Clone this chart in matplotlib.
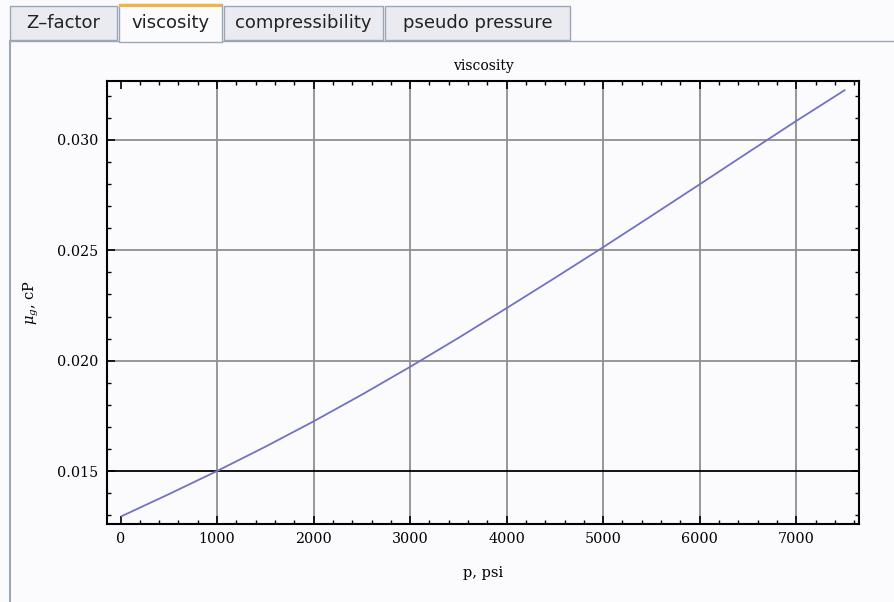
import numpy as np
import matplotlib
matplotlib.use("Agg")
import matplotlib.pyplot as plt
from matplotlib.patches import Rectangle
from matplotlib.ticker import MultipleLocator, FormatStrFormatter

matplotlib.rcParams["mathtext.fontset"] = "dejavuserif"

# data
pressure = [14.7, 500, 1000, 1500, 2000, 2500, 3000, 3500, 4000,
            4500, 5000, 5500, 6000, 6500, 7000, 7500]
viscosity = [0.01296, 0.01395, 0.0150, 0.01610, 0.01725, 0.01846, 0.01972, 0.02103,
             0.02238, 0.02375, 0.02514, 0.02656, 0.02799, 0.02943, 0.03086, 0.03225]
tab_names = ["Z\u2013factor", "viscosity", "compressibility", "pseudo pressure"]
tab_edges = [(10, 117), (119, 222), (224, 383), (385, 570)]
active_tab = 1

W, H = 895, 602
fig = plt.figure(figsize=(W / 100, H / 100), dpi=100)
fig.patch.set_facecolor("#fbfbfd")

def fx(px):
    return px / W

def fy(py):
    return 1 - py / H

# tab strip
for i, (name, (x0, x1)) in enumerate(zip(tab_names, tab_edges)):
    if i == active_tab:
        top, bot, fc = 4, 42, "#fbfbfd"
    else:
        top, bot, fc = 6, 40, "#e9ebf1"
    r = Rectangle((fx(x0), fy(bot)), fx(x1 - x0), (bot - top) / H,
                  transform=fig.transFigure, facecolor=fc, edgecolor="#9ba6b6",
                  linewidth=1, zorder=2)
    fig.patches.append(r)
    if i == active_tab:
        fig.patches.append(Rectangle((fx(x0), fy(7)), fx(x1 - x0), 3 / H,
                                     transform=fig.transFigure, facecolor="#f2b441",
                                     edgecolor="none", zorder=3))
    fig.text(fx((x0 + x1) / 2), fy(23), name, ha="center", va="center",
             fontsize=13, family="DejaVu Sans", color="#222222", zorder=4)

# panel border
fig.add_artist(plt.Line2D([fx(10), fx(10)], [fy(41), 0], transform=fig.transFigure,
                          color="#9ba6b6", lw=1.5))
fig.add_artist(plt.Line2D([fx(222), 1], [fy(41), fy(41)], transform=fig.transFigure,
                          color="#9ba6b6", lw=1))
fig.add_artist(plt.Line2D([fx(10), fx(119)], [fy(41), fy(41)], transform=fig.transFigure,
                          color="#9ba6b6", lw=1))

# plot area
ax = fig.add_axes([fx(107), fy(524), fx(859 - 107), (524 - 81) / H])
ax.set_facecolor("#fbfbfd")
ax.plot(pressure, viscosity, color="#7272c4", lw=1.3, zorder=3)
ax.axhline(0.015, color="black", lw=1.3, zorder=2)

ax.set_xlim(-140, 7650)
ax.set_ylim(0.0126, 0.03267)
ax.xaxis.set_major_locator(MultipleLocator(1000))
ax.xaxis.set_minor_locator(MultipleLocator(200))
ax.yaxis.set_major_locator(MultipleLocator(0.005))
ax.yaxis.set_minor_locator(MultipleLocator(0.001))
ax.yaxis.set_major_formatter(FormatStrFormatter("%.3f"))

for v in range(1000, 8000, 1000):
    ax.axvline(v, color="#8f8f8f", lw=1.3, zorder=1)
for v in [0.020, 0.025, 0.030]:
    ax.axhline(v, color="#8f8f8f", lw=1.3, zorder=1)

ax.tick_params(which="both", direction="in", top=True, right=True, color="black")
ax.tick_params(which="major", length=6, width=1.2, labelsize=10.3, pad=6)
ax.tick_params(which="minor", length=3, width=1)
for lab in ax.get_xticklabels() + ax.get_yticklabels():
    lab.set_family("DejaVu Serif")
for s in ax.spines.values():
    s.set_linewidth(1.5)

ax.set_title("viscosity", fontsize=10, family="DejaVu Serif", pad=8)
ax.set_xlabel("p, psi", fontsize=10.5, family="DejaVu Serif", labelpad=14)
ax.set_ylabel(r"$\mu_g$, cP", fontsize=10.5, family="DejaVu Serif", labelpad=12)

fig.savefig("out.png", dpi=100, facecolor=fig.get_facecolor())
